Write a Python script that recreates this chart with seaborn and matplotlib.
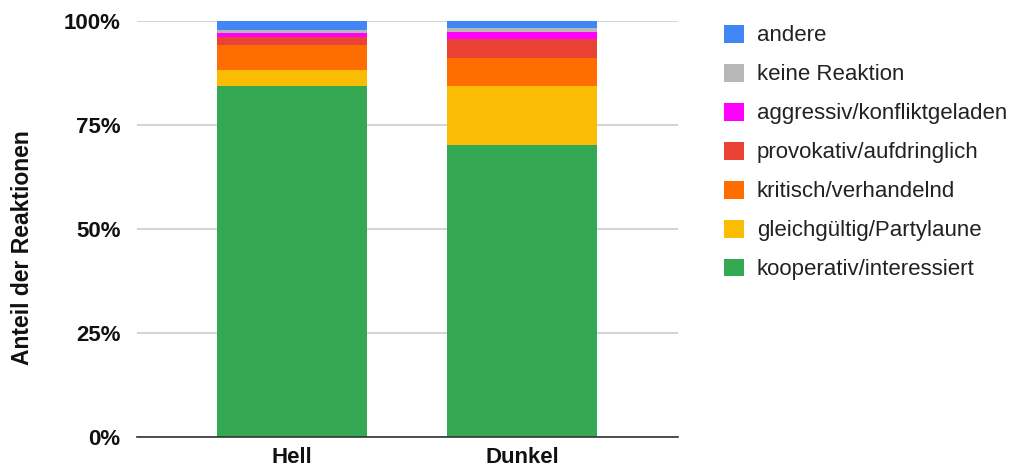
import matplotlib
matplotlib.use("Agg")
import matplotlib.pyplot as plt
from matplotlib.patches import Patch
from matplotlib.ticker import PercentFormatter
import numpy as np
import seaborn as sns

# Lighting conditions on the x axis
groups = ["Hell", "Dunkel"]

# Reaction categories, bottom of the stack first
categories = [
    "kooperativ/interessiert",
    "gleichgültig/Partylaune",
    "kritisch/verhandelnd",
    "provokativ/aufdringlich",
    "aggressiv/konfliktgeladen",
    "keine Reaktion",
    "andere",
]

# Share of reactions in percent, per group (Hell, Dunkel)
kooperativ = [84.4, 70.3]
gleichgueltig = [3.8, 14.2]
kritisch = [6.0, 6.7]
provokativ = [2.0, 4.6]
aggressiv = [1.1, 1.6]
keine_reaktion = [0.5, 1.0]
andere = [2.2, 1.6]

series = [kooperativ, gleichgueltig, kritisch, provokativ, aggressiv,
          keine_reaktion, andere]

colors = ["#34A853", "#FBBC04", "#FF6D01", "#EA4335", "#FF00FF",
          "#B7B7B7", "#4285F4"]

sns.set_theme(style="white")
plt.rcParams["font.family"] = ["Liberation Sans", "DejaVu Sans"]

fig = plt.figure(figsize=(10.15, 4.70), dpi=100)
ax = fig.add_axes([0.135, 0.0696, 0.533, 0.8851])

bottom = np.zeros(len(groups))
for cat, vals, col in zip(categories, series, colors):
    sns.barplot(x=groups, y=vals, bottom=bottom, color=col, width=0.652,
                ax=ax, linewidth=0, saturation=1, label=cat)
    bottom += np.array(vals)

ax.set_xlim(-0.674, 1.678)
ax.set_ylim(0, 100)
ax.set_yticks([0, 25, 50, 75, 100])
ax.yaxis.set_major_formatter(PercentFormatter(decimals=0))
ax.grid(axis="y", color="#cccccc", linewidth=1.2)
ax.set_axisbelow(True)
for side in ["top", "right", "left"]:
    ax.spines[side].set_visible(False)
ax.spines["bottom"].set_color("#333333")
ax.spines["bottom"].set_linewidth(1.2)
ax.tick_params(axis="both", length=0, labelsize=16, colors="#111111")
ax.tick_params(axis="y", pad=12)
ax.tick_params(axis="x", pad=7)
for lbl in ax.get_xticklabels() + ax.get_yticklabels():
    lbl.set_fontweight("bold")
ax.set_xlabel("")
ax.set_ylabel("Anteil der Reaktionen", fontsize=16.5, fontweight="bold",
              color="#111111")
ax.yaxis.set_label_coords(-0.19, 0.457)

# Legend lists the top of the stack first
handles = [Patch(facecolor=c, edgecolor="none") for c in colors][::-1]
labels = categories[::-1]
if ax.get_legend() is not None:
    ax.get_legend().remove()
fig.legend(handles, labels, loc="upper left",
           bbox_to_anchor=(0.705, 0.966), frameon=False, fontsize=16,
           handlelength=0.86, handleheight=0.86, handletextpad=0.6,
           labelspacing=0.78, borderaxespad=0, labelcolor="#222222")

fig.savefig("out.png", dpi=100)
